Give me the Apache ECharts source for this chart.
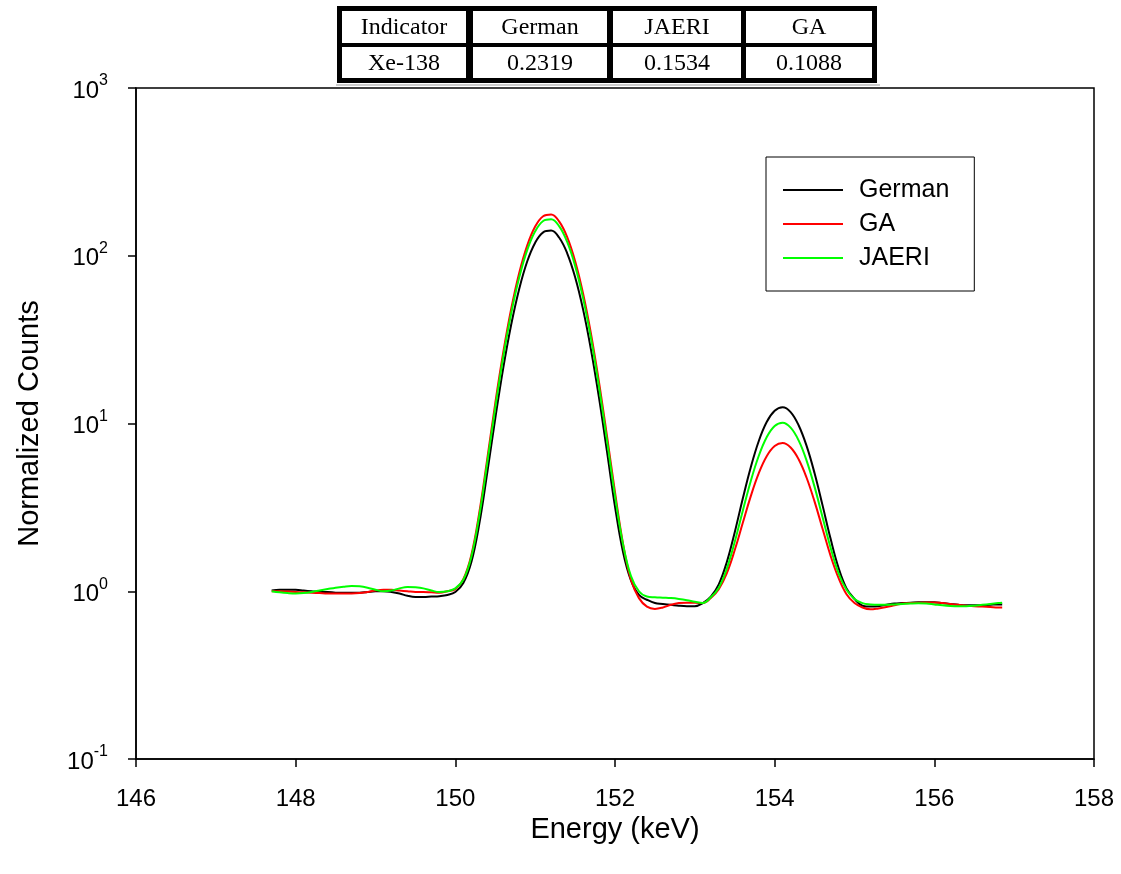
<!DOCTYPE html>
<html><head><meta charset="utf-8">
<script src="https://cdn.jsdelivr.net/npm/echarts@6/dist/echarts.min.js"></script>
<style>html,body{margin:0;padding:0;background:#fff}#c{width:1121px;height:874px}</style>
</head><body><div id="c"></div>
<script>
const energy = [147.7,147.8,147.9,148.0,148.1,148.2,148.3,148.4,148.5,148.6,148.7,148.8,148.9,149.0,149.1,149.2,149.3,149.4,149.5,149.6,149.7,149.8,149.9,
150.0,150.1,150.2,150.3,150.4,150.5,150.6,150.7,150.8,150.9,151.0,151.1,151.2,151.3,151.4,151.5,151.6,151.7,151.8,151.9,
152.0,152.1,152.2,152.3,152.4,152.5,152.6,152.7,152.8,152.9,153.0,153.1,153.2,153.3,153.4,153.5,153.6,153.7,153.8,153.9,
154.0,154.1,154.2,154.3,154.4,154.5,154.6,154.7,154.8,154.9,155.0,155.1,155.2,155.3,155.4,155.5,155.6,155.7,155.8,155.9,
156.0,156.1,156.2,156.3,156.4,156.5,156.6,156.7,156.8,156.85];

const german = [1.01,1.02,1.02,1.02,1.01,1.00,0.99,0.99,0.98,0.98,0.98,0.98,0.99,1.00,1.00,0.99,0.97,0.94,0.925,0.925,0.93,0.935,0.95,
0.99,1.12,1.49,2.52,5.10,10.7,21.4,38.9,63.4,92.4,119.7,137.9,141.2,128.4,103.8,74.7,47.9,27.4,14.2,6.8,
3.2,1.72,1.16,0.95,0.89,0.85,0.84,0.83,0.82,0.815,0.815,0.85,0.93,1.10,1.49,2.25,3.56,5.47,7.84,10.2,
11.9,12.5,11.7,9.76,7.35,5.05,3.25,2.06,1.38,1.04,0.90,0.82,0.81,0.815,0.83,0.845,0.85,0.855,0.86,0.86,
0.86,0.85,0.84,0.83,0.825,0.825,0.825,0.83,0.835,0.835];

const ga = [1.00,1.00,0.995,0.99,0.985,0.98,0.975,0.97,0.97,0.97,0.97,0.975,0.99,1.01,1.02,1.02,1.01,1.00,0.99,0.99,0.985,0.98,1.00,
1.03,1.18,1.64,2.94,6.16,13.2,26.5,48.3,79.0,115.1,149.2,171.9,176.1,160.2,129.5,93.1,59.6,34.1,17.6,8.4,
3.9,1.93,1.17,0.91,0.81,0.785,0.80,0.83,0.85,0.855,0.855,0.85,0.91,1.03,1.28,1.76,2.55,3.68,5.04,6.38,
7.34,7.65,7.19,6.12,4.75,3.42,2.36,1.63,1.20,0.96,0.85,0.80,0.78,0.79,0.805,0.825,0.845,0.85,0.855,0.857,
0.857,0.85,0.84,0.83,0.82,0.815,0.81,0.805,0.80,0.80];

const jaeri = [1.00,0.985,0.975,0.97,0.975,0.99,1.01,1.03,1.05,1.065,1.075,1.07,1.05,1.02,1.00,1.01,1.04,1.06,1.055,1.04,1.01,0.99,1.00,
1.04,1.17,1.60,2.82,5.85,12.4,24.9,45.4,74.1,108.0,139.9,161.2,165.1,150.2,121.4,87.3,55.9,32.0,16.5,7.9,
3.7,1.91,1.23,1.00,0.93,0.92,0.915,0.91,0.90,0.885,0.865,0.85,0.92,1.05,1.36,1.97,3.01,4.53,6.40,8.28,
9.66,10.1,9.44,7.93,6.01,4.19,2.76,1.82,1.28,1.02,0.90,0.85,0.835,0.83,0.83,0.835,0.84,0.845,0.848,0.845,
0.835,0.825,0.818,0.815,0.815,0.82,0.83,0.84,0.85,0.855];

const seriesNames = ['German','GA','JAERI'];
const seriesColors = ['#000000','#ff0000','#00ff00'];
const tableHeader = ['Indicator','German','JAERI','GA'];
const tableRow = ['Xe-138','0.2319','0.1534','0.1088'];

const pair = arr => energy.map((e,i)=>[e,arr[i]]);
const seriesData = [german, ga, jaeri];

// table layout
const colX = [342,473,613,746], colW = [124,134,128,126];
const rowY = [11,47], rowH = [32,31];
const graphics = [{type:'rect',shape:{x:337,y:6,width:540,height:77},style:{fill:'#000'}},
  {type:'line',shape:{x1:336,y1:85,x2:880,y2:85},style:{stroke:'#999',lineWidth:1}}];
[tableHeader, tableRow].forEach((row,r)=>{
  row.forEach((t,c)=>{
    graphics.push({type:'rect',shape:{x:colX[c],y:rowY[r],width:colW[c],height:rowH[r]},style:{fill:'#fff'}});
    graphics.push({type:'text',x:colX[c]+colW[c]/2,y:rowY[r]+rowH[r]/2+1,
      style:{text:t,align:'center',verticalAlign:'middle',fontSize:24,fontFamily:'"Liberation Serif", serif',fill:'#000'}});
  });
});

const chart = echarts.init(document.getElementById('c'));
const FONT = '"Liberation Sans", Arial, sans-serif';
chart.setOption({
  animation:false,
  backgroundColor:'#fff',
  textStyle:{fontFamily:FONT},
  grid:{left:136,right:27,top:88,bottom:115,show:true,borderColor:'#000',borderWidth:1.5,backgroundColor:'transparent'},
  legend:{data:seriesNames,orient:'vertical',left:766,top:157,backgroundColor:'#fff',borderColor:'#000',borderWidth:1,
    padding:[20,25,20,17],itemGap:8,itemWidth:60,itemHeight:2,icon:'rect',
    textStyle:{fontSize:25,lineHeight:26,color:'#000',fontFamily:FONT,padding:[0,0,0,11]}},
  xAxis:{type:'value',min:146,max:158,interval:2,
    axisLine:{show:true,lineStyle:{color:'#000',width:1.5}},
    axisTick:{show:true,inside:false,length:8,lineStyle:{color:'#000',width:1.5}},
    splitLine:{show:false},
    axisLabel:{fontSize:24,color:'#000',margin:28,fontFamily:FONT},
    name:'Energy (keV)',nameLocation:'middle',nameGap:50,
    nameTextStyle:{fontSize:29,color:'#000',fontFamily:FONT}},
  yAxis:{type:'log',logBase:10,min:0.1,max:1000,
    axisLine:{show:true,lineStyle:{color:'#000',width:1.5}},
    axisTick:{show:true,inside:false,length:8,lineStyle:{color:'#000',width:1.5}},
    splitLine:{show:false},minorTick:{show:false},
    axisLabel:{margin:28,color:'#000',
      formatter:v=>'{b|10}{s|'+Math.round(Math.log10(v))+'}',
      rich:{b:{fontSize:24,lineHeight:30,color:'#000',fontFamily:FONT,verticalAlign:'bottom'},
            s:{fontSize:16,lineHeight:30,color:'#000',fontFamily:FONT,verticalAlign:'top'}}},
    name:'Normalized Counts',nameLocation:'middle',nameGap:92,
    nameTextStyle:{fontSize:29,color:'#000',fontFamily:FONT}},
  series:seriesNames.map((n,i)=>({name:n,type:'line',data:pair(seriesData[i]),smooth:0.4,showSymbol:false,symbol:'none',
    lineStyle:{color:seriesColors[i],width:2},itemStyle:{color:seriesColors[i]},z:2+i})),
  graphic:graphics
});
</script></body></html>
